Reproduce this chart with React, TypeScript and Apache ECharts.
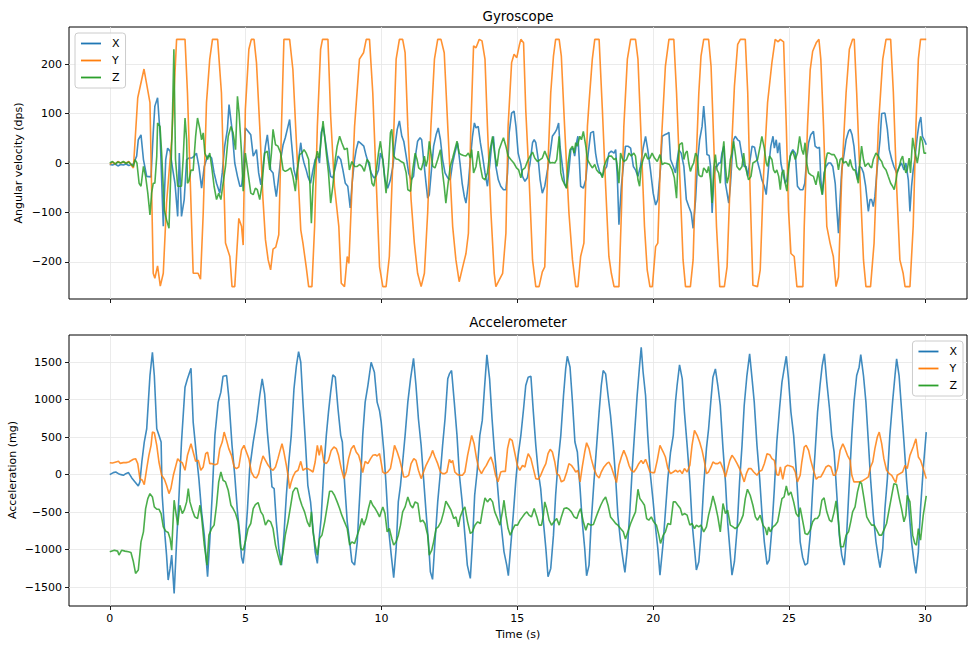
import React, { useEffect, useRef } from 'react';
import * as echarts from 'echarts';

const FONT = "'DejaVu Sans', 'Liberation Sans', sans-serif";
const seriesNames = ['X', 'Y', 'Z'];
const seriesColors = ['#1f77b4', '#ff7f0e', '#2ca02c'];
const timeTicks = [0, 5, 10, 15, 20, 25, 30];
const gyroTicks = [-200, -100, 0, 100, 200];
const accTicks = [-1500, -1000, -500, 0, 500, 1000, 1500];

// Gyroscope (dps) — [time s, value]
const gyroX: number[][] = [[0,-3],[0.1,-4],[0.2,-2],[0.3,-6],[0.4,-3],[0.5,-4],[0.6,-2],[0.7,-5],[0.87,-2],[0.99,14],[1.05,47],[1.15,57],[1.24,7],[1.36,-27],[1.52,-28],[1.6,61],[1.66,115],[1.76,132],[1.85,61],[1.97,-128],[2.06,7],[2.13,30],[2.22,24],[2.3,-7],[2.4,-41],[2.5,-108],[2.56,20],[2.64,-108],[2.74,-74],[2.83,7],[2.91,10],[3.01,10],[3.11,14],[3.19,20],[3.28,-7],[3.38,-51],[3.48,-7],[3.6,14],[3.68,14],[3.75,10],[3.84,-20],[3.93,-41],[4.05,-61],[4.14,-20],[4.23,34],[4.33,68],[4.39,118],[4.5,68],[4.6,0],[4.7,-27],[4.79,-47],[4.85,-47],[4.91,-20],[4.99,71],[5.09,64],[5.19,57],[5.28,14],[5.34,20],[5.4,27],[5.48,-20],[5.56,-44],[5.64,-7],[5.73,34],[5.8,57],[5.86,27],[5.92,-14],[6.01,-20],[6.07,-47],[6.13,-68],[6.19,-41],[6.29,7],[6.38,37],[6.46,51],[6.56,74],[6.62,88],[6.68,47],[6.78,-14],[6.87,-34],[6.95,7],[7.03,41],[7.09,14],[7.15,0],[7.23,-14],[7.29,-27],[7.39,-41],[7.48,-14],[7.56,7],[7.66,14],[7.72,0],[7.78,61],[7.85,74],[7.93,47],[8.03,7],[8.13,-27],[8.21,-30],[8.31,-7],[8.4,14],[8.5,7],[8.58,-14],[8.67,-41],[8.76,-47],[8.85,-91],[8.92,-41],[9.01,7],[9.07,27],[9.15,44],[9.25,39],[9.35,34],[9.44,14],[9.52,0],[9.62,-20],[9.72,-30],[9.8,-27],[9.89,-14],[9.96,20],[10.05,7],[10.13,-34],[10.23,-51],[10.33,-34],[10.42,-7],[10.5,34],[10.58,68],[10.66,85],[10.75,54],[10.82,44],[10.91,14],[11.0,-20],[11.09,-34],[11.18,-27],[11.25,14],[11.33,44],[11.42,51],[11.48,47],[11.55,7],[11.64,-41],[11.7,-71],[11.76,-64],[11.85,-7],[11.92,34],[12.01,57],[12.09,71],[12.17,47],[12.25,7],[12.34,-20],[12.44,-30],[12.53,-34],[12.62,0],[12.7,20],[12.8,41],[12.89,0],[12.97,-41],[13.05,-68],[13.11,-81],[13.2,-41],[13.27,7],[13.35,54],[13.42,81],[13.48,71],[13.56,74],[13.64,41],[13.72,14],[13.81,-20],[13.9,-47],[13.98,-7],[14.05,34],[14.12,54],[14.21,-7],[14.3,-34],[14.39,-47],[14.49,-54],[14.58,-54],[14.64,-20],[14.7,61],[14.79,101],[14.88,105],[14.95,74],[15.03,20],[15.13,-3],[15.19,-27],[15.28,-37],[15.37,-30],[15.47,0],[15.56,41],[15.62,47],[15.68,41],[15.77,7],[15.84,-34],[15.92,-61],[16.01,-47],[16.11,-14],[16.21,20],[16.29,54],[16.38,61],[16.45,68],[16.52,81],[16.57,34],[16.66,-7],[16.74,-41],[16.82,-51],[16.9,-14],[16.97,27],[17.05,30],[17.11,14],[17.19,44],[17.23,54],[17.28,7],[17.33,-47],[17.43,-51],[17.52,-34],[17.61,20],[17.7,61],[17.8,64],[17.88,20],[17.94,0],[18.04,-20],[18.13,-27],[18.21,-14],[18.29,-7],[18.37,20],[18.46,24],[18.56,20],[18.62,27],[18.68,-27],[18.74,-125],[18.83,-47],[18.9,-7],[18.98,34],[19.07,34],[19.17,30],[19.27,-7],[19.35,-14],[19.44,-27],[19.53,-7],[19.63,30],[19.72,54],[19.8,27],[19.9,-14],[20.0,-61],[20.09,-85],[20.17,-74],[20.27,-10],[20.33,54],[20.42,57],[20.51,59],[20.58,62],[20.64,7],[20.74,-7],[20.82,-20],[20.94,27],[21.03,20],[21.13,-7],[21.22,-74],[21.31,-88],[21.4,-101],[21.47,-132],[21.56,-74],[21.64,7],[21.71,47],[21.8,74],[21.86,115],[21.92,74],[21.98,17],[22.06,15],[22.11,-7],[22.17,-101],[22.23,-34],[22.29,-7],[22.35,-7],[22.42,0],[22.48,0],[22.53,20],[22.6,34],[22.66,-41],[22.72,-61],[22.78,-81],[22.84,-47],[22.9,7],[22.96,47],[23.02,54],[23.11,47],[23.18,44],[23.27,14],[23.35,-7],[23.42,-7],[23.48,-27],[23.55,0],[23.64,34],[23.73,32],[23.82,7],[23.92,-14],[24.0,-34],[24.09,-47],[24.16,-64],[24.25,-7],[24.33,34],[24.41,54],[24.46,30],[24.53,47],[24.58,20],[24.65,41],[24.7,0],[24.77,-20],[24.86,-41],[24.92,-34],[24.98,-7],[25.07,20],[25.14,27],[25.23,20],[25.31,-47],[25.41,-54],[25.51,-54],[25.58,-41],[25.65,7],[25.72,41],[25.8,57],[25.9,64],[25.96,34],[26.05,30],[26.12,32],[26.17,-34],[26.23,-64],[26.29,-20],[26.36,-7],[26.45,0],[26.53,0],[26.61,-7],[26.7,-41],[26.76,-95],[26.82,-142],[26.88,-74],[26.94,-14],[27.03,20],[27.1,47],[27.19,64],[27.25,68],[27.32,57],[27.39,34],[27.47,-14],[27.53,-34],[27.59,-7],[27.67,-10],[27.74,-20],[27.82,-47],[27.92,-98],[27.98,-74],[28.04,-74],[28.1,-88],[28.16,-68],[28.25,-7],[28.35,47],[28.41,100],[28.53,101],[28.62,68],[28.69,27],[28.78,7],[28.86,-7],[28.96,-20],[29.06,-7],[29.14,0],[29.23,-14],[29.3,0],[29.39,-34],[29.45,-98],[29.51,-47],[29.57,-14],[29.63,7],[29.72,54],[29.79,81],[29.85,93],[29.91,54],[30.0,44],[30.05,37]];

const gyroY: number[][] = [[0,-3],[0.1,2],[0.2,-2],[0.3,3],[0.4,0],[0.5,2],[0.6,0],[0.7,3],[0.8,-5],[0.87,-10],[1.03,132],[1.26,190],[1.48,122],[1.6,-223],[1.66,-233],[1.76,-208],[1.86,-249],[1.97,-223],[2.09,-81],[2.28,47],[2.46,250],[2.77,250],[2.86,142],[3.07,-223],[3.25,-223],[3.34,-235],[3.44,-101],[3.56,122],[3.68,210],[3.78,250],[3.97,250],[4.11,142],[4.26,-162],[4.42,-189],[4.5,-250],[4.6,-250],[4.75,-112],[4.85,-128],[4.91,-166],[4.99,108],[5.12,230],[5.21,250],[5.31,250],[5.4,203],[5.52,74],[5.64,-74],[5.73,-155],[5.83,-196],[5.92,-216],[6.01,-174],[6.11,-170],[6.22,-145],[6.32,74],[6.41,250],[6.62,250],[6.74,189],[6.87,41],[7.03,-135],[7.11,-162],[7.23,-210],[7.32,-250],[7.44,-250],[7.54,-128],[7.64,74],[7.76,230],[7.83,250],[8.03,250],[8.13,95],[8.27,-47],[8.43,-128],[8.52,-243],[8.64,-250],[8.74,-189],[8.8,-203],[9.01,74],[9.19,210],[9.34,223],[9.44,250],[9.56,250],[9.68,142],[9.8,-27],[9.93,-210],[10.05,-250],[10.17,-250],[10.29,-189],[10.42,7],[10.54,210],[10.66,250],[10.78,250],[10.87,223],[10.97,74],[11.09,-74],[11.21,-162],[11.33,-223],[11.46,-250],[11.58,-223],[11.7,-101],[11.82,74],[11.95,210],[12.07,250],[12.19,250],[12.31,223],[12.44,74],[12.62,-128],[12.74,-196],[12.86,-240],[12.99,-210],[13.11,-183],[13.2,-142],[13.29,74],[13.39,237],[13.48,233],[13.6,250],[13.7,247],[13.81,210],[13.9,74],[14.03,-101],[14.15,-223],[14.21,-250],[14.33,-237],[14.46,-223],[14.58,-142],[14.66,74],[14.79,203],[14.88,220],[14.98,213],[15.07,237],[15.13,250],[15.23,243],[15.31,108],[15.43,-27],[15.56,-196],[15.68,-250],[15.8,-250],[15.92,-220],[16.01,-210],[16.11,-27],[16.23,142],[16.33,216],[16.41,250],[16.54,250],[16.62,216],[16.74,74],[16.9,-101],[17.03,-196],[17.15,-250],[17.23,-250],[17.33,-189],[17.45,-162],[17.58,74],[17.64,122],[17.76,210],[17.85,250],[18.01,250],[18.13,108],[18.25,-47],[18.37,-189],[18.46,-223],[18.56,-250],[18.74,-250],[18.83,-101],[18.92,74],[19.05,210],[19.17,250],[19.35,250],[19.44,210],[19.54,74],[19.68,-128],[19.78,-216],[19.88,-250],[19.97,-250],[20.09,-169],[20.17,-162],[20.27,10],[20.45,196],[20.58,250],[20.76,250],[20.86,142],[20.98,-27],[21.1,-196],[21.19,-250],[21.37,-250],[21.47,-196],[21.56,-27],[21.68,142],[21.76,216],[21.86,250],[22.04,250],[22.13,196],[22.23,41],[22.33,-128],[22.45,-250],[22.62,-250],[22.72,-210],[22.84,-27],[22.99,155],[23.11,240],[23.21,250],[23.39,250],[23.48,142],[23.57,-61],[23.67,-247],[23.84,-250],[23.94,-216],[24.06,-27],[24.21,122],[24.37,203],[24.49,250],[24.6,245],[24.68,250],[24.8,245],[24.9,74],[24.98,-95],[25.07,-183],[25.19,-189],[25.29,-250],[25.51,-250],[25.56,-128],[25.68,74],[25.78,189],[25.87,226],[26.0,243],[26.1,250],[26.17,210],[26.27,74],[26.39,-128],[26.51,-162],[26.63,-189],[26.73,-250],[26.82,-230],[26.94,-27],[27.1,142],[27.22,230],[27.34,250],[27.4,250],[27.49,142],[27.61,-27],[27.74,-196],[27.83,-250],[28.0,-250],[28.13,-162],[28.29,74],[28.45,210],[28.57,250],[28.74,250],[28.84,142],[28.96,-47],[29.08,-196],[29.2,-223],[29.27,-250],[29.45,-250],[29.57,-128],[29.67,74],[29.76,210],[29.84,250],[30.05,250]];

const gyroZ: number[][] = [[0,0],[0.1,3],[0.2,-2],[0.3,2],[0.4,0],[0.5,3],[0.6,-1],[0.7,2],[0.87,-7],[0.93,7],[1.0,0],[1.08,-41],[1.15,-47],[1.24,-7],[1.32,-27],[1.4,-61],[1.48,-105],[1.54,-61],[1.6,-41],[1.66,-41],[1.73,14],[1.76,81],[1.85,74],[1.91,20],[2.01,-95],[2.09,-115],[2.18,-132],[2.25,-14],[2.3,74],[2.36,230],[2.42,7],[2.5,-47],[2.58,-47],[2.64,-47],[2.7,7],[2.77,91],[2.83,47],[2.86,-41],[2.91,-37],[2.99,-14],[3.07,-15],[3.16,54],[3.23,91],[3.32,68],[3.38,47],[3.44,61],[3.5,20],[3.6,7],[3.68,20],[3.75,-7],[3.84,-47],[3.93,-74],[4.01,-61],[4.09,-74],[4.17,-41],[4.26,-7],[4.36,54],[4.46,74],[4.54,61],[4.63,27],[4.7,135],[4.76,101],[4.85,20],[4.91,-57],[4.99,20],[5.09,-20],[5.19,-61],[5.28,-64],[5.36,-51],[5.43,-54],[5.52,-74],[5.61,-41],[5.7,20],[5.8,24],[5.89,-14],[5.95,20],[6.01,68],[6.1,37],[6.19,34],[6.29,20],[6.38,-14],[6.46,-17],[6.56,-14],[6.66,-10],[6.74,-27],[6.83,-57],[6.9,-14],[6.99,17],[7.07,20],[7.15,27],[7.23,20],[7.32,7],[7.37,-47],[7.42,-122],[7.48,-47],[7.56,0],[7.64,24],[7.71,10],[7.78,47],[7.85,85],[7.91,54],[7.97,20],[8.05,-20],[8.13,-81],[8.21,-47],[8.3,7],[8.37,34],[8.46,54],[8.54,41],[8.64,27],[8.74,30],[8.82,-14],[8.91,3],[9.01,-7],[9.11,-7],[9.19,-3],[9.28,-7],[9.37,-17],[9.47,7],[9.56,0],[9.65,-41],[9.72,-47],[9.8,-20],[9.89,20],[9.96,44],[10.05,7],[10.11,-27],[10.17,-61],[10.26,-7],[10.33,61],[10.38,68],[10.45,14],[10.54,8],[10.63,7],[10.72,3],[10.82,0],[10.91,-20],[10.97,-54],[11.07,-57],[11.15,-14],[11.24,20],[11.31,7],[11.37,-10],[11.46,-14],[11.53,0],[11.58,14],[11.64,-7],[11.7,7],[11.76,44],[11.82,20],[11.89,-7],[11.97,-10],[12.07,7],[12.17,27],[12.25,-20],[12.31,-47],[12.37,-81],[12.44,-47],[12.53,-7],[12.62,10],[12.7,27],[12.78,44],[12.86,20],[12.93,17],[13.02,15],[13.11,14],[13.2,20],[13.27,10],[13.32,27],[13.39,-20],[13.48,-7],[13.56,24],[13.64,-7],[13.72,-30],[13.81,-34],[13.9,-20],[14.0,27],[14.09,54],[14.17,17],[14.25,-7],[14.33,27],[14.42,41],[14.49,51],[14.58,34],[14.66,14],[14.76,7],[14.87,0],[14.97,-10],[15.05,-14],[15.13,-30],[15.19,-14],[15.28,-10],[15.37,3],[15.47,14],[15.56,22],[15.64,10],[15.74,3],[15.84,7],[15.92,10],[16.01,24],[16.11,10],[16.21,0],[16.29,1],[16.38,0],[16.45,7],[16.54,54],[16.6,-20],[16.66,-34],[16.72,-41],[16.81,-51],[16.87,0],[16.94,27],[17.03,34],[17.09,20],[17.15,41],[17.21,34],[17.3,54],[17.36,47],[17.43,64],[17.52,34],[17.58,7],[17.68,-3],[17.76,-10],[17.85,-3],[17.92,-14],[18.01,-20],[18.07,-20],[18.13,-30],[18.19,-7],[18.29,7],[18.37,14],[18.46,14],[18.56,7],[18.63,10],[18.68,-7],[18.74,-41],[18.8,20],[18.86,10],[18.92,3],[19.02,7],[19.11,20],[19.19,14],[19.29,20],[19.35,14],[19.44,-34],[19.5,-47],[19.56,-7],[19.63,7],[19.72,20],[19.8,8],[19.88,10],[19.96,20],[20.05,10],[20.15,3],[20.25,17],[20.33,-3],[20.42,0],[20.51,-1],[20.6,-3],[20.7,-14],[20.78,-30],[20.86,-71],[20.91,0],[20.97,37],[21.07,41],[21.13,7],[21.19,20],[21.25,24],[21.31,0],[21.37,-17],[21.43,-7],[21.49,0],[21.56,20],[21.62,14],[21.68,-24],[21.74,-27],[21.8,-27],[21.86,-10],[21.92,-14],[21.98,-20],[22.04,-7],[22.11,-34],[22.17,-81],[22.23,-10],[22.29,17],[22.35,-14],[22.41,-20],[22.47,-41],[22.53,7],[22.6,44],[22.66,-7],[22.72,-41],[22.78,-27],[22.84,7],[22.9,20],[22.96,44],[23.02,20],[23.08,-7],[23.18,-14],[23.27,-7],[23.33,20],[23.39,-7],[23.45,-20],[23.51,-34],[23.6,-27],[23.67,0],[23.76,3],[23.84,7],[23.94,35],[24.0,54],[24.09,30],[24.16,0],[24.21,-7],[24.28,14],[24.37,7],[24.43,-14],[24.49,-20],[24.55,-14],[24.62,-27],[24.68,-54],[24.74,-20],[24.8,-14],[24.86,-41],[24.92,-57],[24.98,-14],[25.04,14],[25.14,24],[25.23,7],[25.31,20],[25.39,54],[25.47,27],[25.53,17],[25.59,41],[25.65,0],[25.72,-20],[25.8,-24],[25.9,-27],[25.99,-44],[26.08,-17],[26.14,-41],[26.22,-64],[26.29,-30],[26.36,7],[26.41,20],[26.48,20],[26.57,17],[26.66,17],[26.76,7],[26.82,-14],[26.88,7],[26.94,10],[27.0,0],[27.1,3],[27.19,-7],[27.25,7],[27.31,-7],[27.37,-14],[27.43,-14],[27.49,-27],[27.55,-41],[27.61,0],[27.67,34],[27.74,7],[27.8,-7],[27.86,-3],[27.92,0],[27.98,-7],[28.04,-10],[28.1,7],[28.2,20],[28.29,14],[28.35,7],[28.41,3],[28.47,-7],[28.57,-14],[28.65,-27],[28.74,-41],[28.81,-47],[28.87,-54],[28.94,-34],[28.98,-20],[29.06,-7],[29.12,7],[29.18,14],[29.23,-3],[29.3,-20],[29.35,-14],[29.42,10],[29.47,-20],[29.55,51],[29.6,34],[29.67,14],[29.72,0],[29.78,20],[29.84,54],[29.91,44],[29.97,20],[30.05,20]];

// Accelerometer (mg) — [time s, value]
const accX: number[][] = [[0,0],[0.13,27],[0.22,35],[0.32,13],[0.42,0],[0.5,-9],[0.59,13],[0.69,27],[0.81,-44],[0.93,-97],[1.05,-151],[1.11,-97],[1.18,168],[1.27,434],[1.36,611],[1.42,966],[1.48,1320],[1.57,1630],[1.64,1320],[1.73,611],[1.81,523],[1.89,434],[1.93,-275],[2.03,-806],[2.09,-1072],[2.15,-1404],[2.22,-1249],[2.28,-1072],[2.37,-1582],[2.46,-895],[2.55,-275],[2.64,434],[2.77,1165],[2.86,1276],[2.99,1418],[3.07,700],[3.19,257],[3.28,-53],[3.38,-496],[3.48,-806],[3.6,-1360],[3.68,-895],[3.77,-275],[3.87,523],[3.99,966],[4.09,1099],[4.17,1311],[4.3,1320],[4.38,1032],[4.5,390],[4.6,-9],[4.7,-496],[4.79,-806],[4.85,-1100],[4.91,-1183],[4.97,-983],[5.07,-452],[5.15,80],[5.28,434],[5.4,700],[5.52,1054],[5.61,1276],[5.7,1077],[5.8,567],[5.89,213],[5.97,-164],[6.05,-186],[6.13,-629],[6.22,-983],[6.32,-1205],[6.41,-806],[6.5,-275],[6.59,168],[6.68,523],[6.78,1143],[6.87,1453],[6.95,1639],[7.03,1497],[7.11,966],[7.2,434],[7.29,-142],[7.39,-363],[7.48,-718],[7.56,-1028],[7.64,-1183],[7.72,-806],[7.78,-585],[7.88,80],[7.97,523],[8.05,833],[8.13,1099],[8.21,1329],[8.3,1298],[8.4,877],[8.5,523],[8.56,434],[8.64,-97],[8.74,-629],[8.83,-895],[8.91,-1160],[9.01,-1205],[9.11,-895],[9.16,-540],[9.23,-97],[9.31,523],[9.4,966],[9.5,1187],[9.62,1497],[9.74,1364],[9.84,966],[9.93,850],[9.99,700],[10.09,301],[10.17,-142],[10.26,-718],[10.36,-1072],[10.45,-1373],[10.54,-983],[10.62,-363],[10.7,-142],[10.78,168],[10.87,523],[10.97,966],[11.07,1276],[11.18,1550],[11.27,1187],[11.36,744],[11.46,390],[11.55,-53],[11.64,-496],[11.73,-895],[11.8,-1294],[11.88,-1395],[11.97,-895],[12.07,-363],[12.17,35],[12.25,390],[12.34,744],[12.44,1276],[12.5,1342],[12.58,1387],[12.68,966],[12.78,523],[12.87,-9],[12.97,-363],[13.07,-806],[13.16,-1205],[13.27,-1382],[13.35,-895],[13.43,-275],[13.52,35],[13.62,523],[13.71,722],[13.79,1143],[13.88,1595],[13.98,1276],[14.07,744],[14.15,346],[14.25,-53],[14.34,-452],[14.42,-718],[14.51,-1028],[14.61,-1205],[14.67,-1347],[14.75,-983],[14.85,-540],[14.95,-53],[15.03,257],[15.13,523],[15.23,877],[15.31,1187],[15.4,1298],[15.5,1311],[15.59,833],[15.68,390],[15.77,35],[15.86,-186],[15.96,-629],[16.05,-983],[16.13,-1360],[16.23,-1249],[16.33,-806],[16.41,-275],[16.5,168],[16.6,523],[16.7,1054],[16.78,1409],[16.84,1577],[16.94,1431],[17.03,966],[17.12,434],[17.21,301],[17.31,-186],[17.39,-629],[17.48,-983],[17.55,-1347],[17.64,-1205],[17.72,-629],[17.82,-97],[17.92,390],[18.01,833],[18.09,1187],[18.16,1387],[18.25,1342],[18.34,1054],[18.43,789],[18.53,390],[18.62,-53],[18.7,-540],[18.8,-895],[18.9,-1160],[18.96,-1302],[19.05,-983],[19.14,-496],[19.23,80],[19.31,523],[19.41,1054],[19.5,1453],[19.56,1697],[19.63,1364],[19.72,1054],[19.8,523],[19.9,-9],[20.0,-363],[20.09,-718],[20.17,-983],[20.25,-1338],[20.37,-895],[20.45,-496],[20.54,-53],[20.64,301],[20.74,523],[20.82,966],[20.88,1187],[20.97,1462],[21.07,1276],[21.15,833],[21.25,390],[21.35,-97],[21.43,-629],[21.52,-983],[21.59,-1271],[21.68,-1160],[21.76,-806],[21.86,-142],[21.96,346],[22.04,611],[22.13,1010],[22.2,1298],[22.29,1409],[22.38,1187],[22.47,921],[22.57,346],[22.66,-97],[22.74,-629],[22.82,-983],[22.9,-1338],[22.99,-1160],[23.09,-718],[23.18,-97],[23.27,390],[23.35,921],[23.45,1320],[23.55,1608],[23.64,1276],[23.72,966],[23.82,390],[23.92,-53],[24.0,-496],[24.09,-895],[24.19,-1196],[24.27,-1138],[24.37,-718],[24.46,-186],[24.55,434],[24.65,877],[24.74,1232],[24.82,1409],[24.9,1577],[24.98,1276],[25.07,833],[25.17,523],[25.26,80],[25.35,-452],[25.41,-895],[25.5,-1100],[25.59,-1205],[25.68,-1183],[25.78,-806],[25.87,-186],[25.96,301],[26.05,833],[26.14,1187],[26.22,1453],[26.3,1608],[26.39,1232],[26.49,877],[26.57,523],[26.66,301],[26.76,-275],[26.85,-806],[26.94,-1072],[27.03,-1205],[27.12,-806],[27.22,-97],[27.31,523],[27.39,966],[27.49,1320],[27.58,1431],[27.64,1599],[27.74,1320],[27.83,966],[27.92,434],[28.0,-53],[28.1,-540],[28.2,-895],[28.29,-1116],[28.35,-1240],[28.45,-983],[28.53,-452],[28.62,-53],[28.71,523],[28.81,966],[28.9,1320],[28.96,1542],[29.05,1320],[29.14,877],[29.23,434],[29.33,-97],[29.43,-540],[29.51,-895],[29.6,-1160],[29.67,-1316],[29.76,-1028],[29.84,-452],[29.94,80],[30.05,567]];

const accY: number[][] = [[0,159],[0.1,155],[0.2,165],[0.32,177],[0.38,150],[0.5,160],[0.6,160],[0.7,168],[0.87,204],[0.95,213],[1.03,146],[1.11,-53],[1.2,-75],[1.27,-133],[1.36,80],[1.44,257],[1.52,390],[1.57,567],[1.64,558],[1.73,390],[1.81,168],[1.91,-9],[2.01,-62],[2.09,-142],[2.18,-253],[2.25,-186],[2.34,-9],[2.42,102],[2.5,213],[2.58,177],[2.67,159],[2.77,58],[2.86,257],[2.99,412],[3.07,301],[3.16,177],[3.26,190],[3.35,58],[3.44,102],[3.53,279],[3.6,301],[3.68,146],[3.77,146],[3.87,133],[3.97,146],[4.05,346],[4.14,434],[4.21,567],[4.3,456],[4.38,346],[4.48,257],[4.58,102],[4.66,80],[4.75,102],[4.85,330],[4.94,390],[5.03,301],[5.12,213],[5.21,35],[5.31,-31],[5.4,-44],[5.48,13],[5.56,146],[5.64,248],[5.73,190],[5.83,124],[5.92,80],[6.01,58],[6.1,102],[6.19,213],[6.26,310],[6.34,412],[6.41,301],[6.5,124],[6.56,-9],[6.62,-186],[6.68,-97],[6.74,-31],[6.83,35],[6.93,58],[7.03,177],[7.11,58],[7.2,80],[7.29,80],[7.39,58],[7.48,35],[7.56,168],[7.64,390],[7.71,257],[7.78,390],[7.88,168],[7.97,146],[8.05,190],[8.15,323],[8.25,368],[8.34,346],[8.42,257],[8.52,80],[8.62,-53],[8.7,35],[8.79,213],[8.89,346],[8.98,390],[9.07,301],[9.16,257],[9.23,168],[9.31,27],[9.4,177],[9.5,146],[9.6,213],[9.68,257],[9.77,266],[9.84,248],[9.93,279],[9.99,160],[10.05,35],[10.13,13],[10.23,35],[10.33,80],[10.42,257],[10.48,390],[10.58,301],[10.66,213],[10.75,80],[10.82,-31],[10.91,-31],[11.0,-9],[11.09,146],[11.19,213],[11.27,190],[11.36,58],[11.46,-53],[11.55,35],[11.64,124],[11.73,190],[11.82,257],[11.88,323],[11.97,235],[12.07,146],[12.17,35],[12.25,13],[12.33,13],[12.41,35],[12.5,204],[12.56,159],[12.62,190],[12.7,35],[12.8,0],[12.9,-9],[12.98,-9],[13.07,35],[13.17,257],[13.26,412],[13.32,523],[13.41,412],[13.5,213],[13.58,80],[13.68,13],[13.78,80],[13.86,124],[13.95,190],[14.03,235],[14.11,146],[14.2,-9],[14.29,-97],[14.39,35],[14.48,44],[14.56,44],[14.64,346],[14.72,478],[14.81,456],[14.9,301],[15.0,124],[15.09,58],[15.19,124],[15.28,102],[15.35,213],[15.4,279],[15.5,213],[15.59,80],[15.68,-53],[15.77,-62],[15.86,-9],[15.96,80],[16.05,146],[16.13,279],[16.21,337],[16.29,301],[16.38,168],[16.45,13],[16.54,-9],[16.62,-97],[16.72,-75],[16.82,35],[16.9,146],[16.99,124],[17.06,89],[17.15,35],[17.23,58],[17.31,-97],[17.39,102],[17.48,301],[17.55,425],[17.64,346],[17.72,213],[17.82,80],[17.92,-9],[18.01,-44],[18.09,35],[18.19,102],[18.29,146],[18.37,168],[18.46,102],[18.56,-9],[18.65,-106],[18.74,124],[18.83,235],[18.92,323],[19.02,235],[19.11,124],[19.19,58],[19.29,35],[19.39,89],[19.47,146],[19.56,190],[19.63,146],[19.72,204],[19.78,146],[19.88,35],[19.96,27],[20.05,27],[20.15,190],[20.25,390],[20.37,301],[20.45,235],[20.54,80],[20.64,13],[20.74,35],[20.82,58],[20.91,35],[20.98,58],[21.07,13],[21.15,80],[21.25,35],[21.35,124],[21.43,390],[21.52,589],[21.62,523],[21.71,434],[21.8,323],[21.89,168],[21.96,13],[22.04,35],[22.13,102],[22.2,168],[22.29,146],[22.38,146],[22.47,168],[22.57,80],[22.66,-31],[22.74,80],[22.82,190],[22.9,257],[22.99,213],[23.09,146],[23.18,80],[23.27,-9],[23.35,-97],[23.43,13],[23.51,80],[23.6,80],[23.7,35],[23.82,-9],[23.92,44],[24.0,58],[24.09,146],[24.19,279],[24.29,266],[24.37,213],[24.46,190],[24.55,0],[24.62,-9],[24.68,102],[24.77,-62],[24.86,102],[24.94,124],[25.04,115],[25.14,102],[25.23,35],[25.31,-97],[25.41,-9],[25.47,168],[25.56,368],[25.63,390],[25.72,323],[25.8,190],[25.9,58],[26.0,-62],[26.08,-31],[26.17,-31],[26.27,35],[26.36,102],[26.45,124],[26.54,102],[26.63,-9],[26.7,-9],[26.78,80],[26.88,323],[26.98,412],[27.06,346],[27.15,257],[27.25,190],[27.31,-9],[27.39,-97],[27.49,-97],[27.58,-97],[27.71,-80],[27.83,-53],[27.92,-31],[28.0,102],[28.08,168],[28.16,346],[28.25,501],[28.32,567],[28.41,412],[28.49,213],[28.59,58],[28.69,13],[28.78,-9],[28.86,-62],[28.93,-106],[28.98,-9],[29.08,13],[29.18,35],[29.27,124],[29.35,80],[29.45,257],[29.57,368],[29.67,478],[29.76,235],[29.84,190],[29.94,80],[30.05,-53]];

const accZ: number[][] = [[0,-1028],[0.17,-1006],[0.29,-1019],[0.34,-1072],[0.44,-1006],[0.56,-1019],[0.69,-1028],[0.78,-1037],[0.87,-1161],[0.95,-1316],[1.05,-1271],[1.15,-895],[1.24,-762],[1.32,-452],[1.4,-319],[1.48,-253],[1.57,-297],[1.64,-430],[1.73,-461],[1.81,-461],[1.89,-518],[1.97,-696],[2.06,-753],[2.15,-771],[2.22,-851],[2.28,-1006],[2.34,-540],[2.37,-341],[2.42,-474],[2.5,-673],[2.58,-408],[2.67,-518],[2.74,-474],[2.83,-363],[2.89,-186],[2.95,-363],[3.04,-474],[3.13,-563],[3.23,-585],[3.32,-408],[3.38,-563],[3.48,-939],[3.58,-1205],[3.65,-806],[3.75,-718],[3.84,-673],[3.93,-408],[4.01,-97],[4.09,35],[4.17,-75],[4.26,-97],[4.36,-208],[4.46,-408],[4.54,-452],[4.63,-518],[4.72,-629],[4.82,-983],[4.91,-1006],[4.99,-895],[5.09,-718],[5.19,-651],[5.28,-452],[5.36,-399],[5.46,-372],[5.56,-496],[5.64,-540],[5.73,-673],[5.83,-607],[5.92,-629],[6.01,-718],[6.1,-939],[6.19,-1072],[6.29,-1205],[6.38,-1028],[6.46,-806],[6.56,-629],[6.66,-408],[6.74,-230],[6.83,-177],[6.9,-186],[6.99,-319],[7.07,-408],[7.17,-496],[7.27,-629],[7.36,-696],[7.42,-496],[7.48,-762],[7.56,-939],[7.64,-1072],[7.72,-851],[7.81,-806],[7.91,-629],[8.01,-408],[8.09,-222],[8.18,-222],[8.27,-275],[8.37,-363],[8.46,-452],[8.54,-540],[8.64,-629],[8.74,-718],[8.83,-939],[8.91,-895],[9.01,-917],[9.11,-806],[9.19,-718],[9.28,-585],[9.35,-673],[9.44,-585],[9.52,-452],[9.6,-341],[9.68,-408],[9.77,-452],[9.84,-496],[9.93,-563],[9.99,-496],[10.05,-430],[10.13,-518],[10.21,-762],[10.29,-718],[10.38,-851],[10.45,-939],[10.54,-895],[10.62,-806],[10.7,-673],[10.78,-496],[10.87,-430],[10.97,-297],[11.07,-408],[11.15,-443],[11.24,-363],[11.34,-385],[11.43,-629],[11.52,-607],[11.6,-651],[11.7,-806],[11.76,-1072],[11.85,-1006],[11.92,-895],[12.01,-718],[12.09,-696],[12.19,-629],[12.29,-496],[12.37,-354],[12.46,-408],[12.56,-474],[12.66,-585],[12.74,-563],[12.83,-696],[12.9,-563],[12.99,-474],[13.07,-430],[13.17,-629],[13.27,-784],[13.35,-762],[13.44,-673],[13.54,-629],[13.64,-651],[13.72,-474],[13.81,-310],[13.9,-363],[14.0,-319],[14.09,-363],[14.17,-496],[14.27,-585],[14.36,-673],[14.45,-496],[14.51,-341],[14.58,-540],[14.66,-718],[14.74,-806],[14.82,-740],[14.91,-673],[15.01,-673],[15.1,-607],[15.19,-563],[15.28,-518],[15.35,-496],[15.43,-540],[15.52,-563],[15.62,-452],[15.72,-563],[15.8,-673],[15.89,-673],[15.96,-540],[16.01,-363],[16.08,-452],[16.17,-607],[16.26,-673],[16.35,-629],[16.45,-585],[16.54,-673],[16.62,-563],[16.72,-452],[16.82,-443],[16.9,-461],[16.99,-496],[17.09,-563],[17.19,-585],[17.27,-496],[17.33,-452],[17.43,-629],[17.52,-740],[17.6,-651],[17.7,-673],[17.8,-665],[17.88,-585],[17.97,-496],[18.07,-408],[18.16,-341],[18.25,-297],[18.34,-408],[18.43,-563],[18.53,-607],[18.62,-651],[18.7,-673],[18.8,-718],[18.9,-762],[18.98,-859],[19.07,-762],[19.17,-651],[19.27,-563],[19.35,-496],[19.44,-195],[19.51,-319],[19.6,-363],[19.68,-408],[19.76,-585],[19.84,-607],[19.93,-563],[20.02,-629],[20.12,-673],[20.21,-806],[20.27,-917],[20.37,-806],[20.45,-762],[20.54,-651],[20.64,-665],[20.74,-363],[20.82,-363],[20.91,-408],[21.0,-452],[21.07,-540],[21.15,-518],[21.25,-540],[21.35,-673],[21.43,-651],[21.52,-718],[21.59,-673],[21.68,-696],[21.76,-673],[21.86,-762],[21.96,-696],[22.04,-540],[22.13,-408],[22.2,-284],[22.29,-408],[22.38,-563],[22.47,-762],[22.57,-385],[22.66,-518],[22.74,-474],[22.84,-673],[22.94,-696],[23.02,-718],[23.11,-696],[23.21,-629],[23.31,-540],[23.39,-319],[23.47,-195],[23.57,-275],[23.67,-408],[23.76,-563],[23.84,-607],[23.94,-540],[24.04,-673],[24.13,-718],[24.19,-806],[24.25,-696],[24.31,-762],[24.41,-696],[24.49,-673],[24.58,-629],[24.65,-496],[24.74,-319],[24.82,-297],[24.9,-151],[24.98,-275],[25.07,-230],[25.17,-363],[25.26,-518],[25.35,-563],[25.41,-440],[25.51,-629],[25.59,-784],[25.68,-797],[25.78,-740],[25.87,-629],[25.96,-585],[26.04,-585],[26.12,-540],[26.21,-341],[26.29,-310],[26.39,-496],[26.49,-607],[26.57,-629],[26.66,-496],[26.73,-350],[26.82,-629],[26.9,-961],[27.0,-961],[27.1,-806],[27.19,-762],[27.27,-629],[27.34,-496],[27.43,-430],[27.52,-230],[27.61,-97],[27.67,-120],[27.76,-319],[27.86,-563],[27.96,-629],[28.04,-673],[28.13,-673],[28.23,-740],[28.32,-806],[28.41,-806],[28.49,-740],[28.59,-651],[28.69,-452],[28.78,-275],[28.86,-120],[28.96,-133],[29.06,-319],[29.14,-452],[29.23,-629],[29.3,-540],[29.35,-275],[29.45,-363],[29.55,-806],[29.63,-917],[29.69,-939],[29.76,-718],[29.84,-873],[29.94,-540],[30.05,-284]];

const fmt = (v: number) => (v < 0 ? '\u2212' + Math.abs(v) : String(v));

function makeSeries(name: string, data: number[][], color: string, idx: number) {
  return {
    type: 'line',
    name,
    data,
    xAxisIndex: idx,
    yAxisIndex: idx,
    showSymbol: false,
    symbol: 'none',
    silent: true,
    lineStyle: { width: 1.6, color, opacity: 0.85 },
    itemStyle: { color },
  };
}

function legendCfg(pos: Record<string, number>) {
  return {
    ...pos,
    data: seriesNames,
    orient: 'vertical',
    icon: 'rect',
    itemWidth: 20,
    itemHeight: 1.8,
    itemGap: 4,
    padding: [4, 6, 4, 6],
    selectedMode: false,
    backgroundColor: 'rgba(255,255,255,0.8)',
    borderColor: '#cccccc',
    borderWidth: 1,
    borderRadius: 3,
    textStyle: { fontFamily: FONT, fontSize: 11, color: '#000', lineHeight: 13, padding: [0, 0, 0, 6] },
  };
}

export default function App() {
  const ref = useRef<HTMLDivElement>(null);
  useEffect(() => {
    if (!ref.current) return;
    const chart = echarts.init(ref.current, null, { renderer: 'svg' });
    const axisLabelStyle = { fontFamily: FONT, fontSize: 11, color: '#000', margin: 7 };
    const tickStyle = { show: true, inside: false, length: 4, lineStyle: { color: '#000', width: 0.9 } };
    const splitStyle = { show: true, lineStyle: { color: '#e6e6e6', width: 0.8 } };
    const xBase = (gi: number, showLabels: boolean) => ({
      type: 'value',
      gridIndex: gi,
      min: -1.5,
      max: 31.55,
      axisLine: { show: false, onZero: false },
      axisTick: { ...tickStyle, customValues: timeTicks },
      axisLabel: { ...axisLabelStyle, show: showLabels, customValues: timeTicks, formatter: fmt },
      splitLine: splitStyle,
    });
    const yBase = (gi: number, min: number, max: number, ticks: number[]) => ({
      type: 'value',
      gridIndex: gi,
      min,
      max,
      axisLine: { show: false, onZero: false },
      axisTick: { ...tickStyle, customValues: ticks },
      axisLabel: { ...axisLabelStyle, customValues: ticks, formatter: fmt },
      splitLine: splitStyle,
    });
    const textEl = (text: string, x: number, y: number, size: number, rotation = 0) => ({
      type: 'text',
      x,
      y,
      rotation,
      silent: true,
      style: { text, fontFamily: FONT, fontSize: size, fill: '#000', textAlign: 'center', textVerticalAlign: 'middle' },
    });
    chart.setOption({
      animation: false,
      backgroundColor: '#ffffff',
      grid: [
        { left: 69, right: 12, top: 27, height: 272, show: true, borderColor: '#000', borderWidth: 1, backgroundColor: 'transparent' },
        { left: 69, right: 12, top: 335, height: 271, show: true, borderColor: '#000', borderWidth: 1, backgroundColor: 'transparent' },
      ],
      xAxis: [xBase(0, false), xBase(1, true)],
      yAxis: [yBase(0, -275, 275, gyroTicks), yBase(1, -1750, 1860, accTicks)],
      legend: [legendCfg({ left: 75, top: 33 }), legendCfg({ right: 16, top: 341 })],
      graphic: [
        textEl('Gyroscope', 518, 16, 13.4),
        textEl('Accelerometer', 518, 322, 13.4),
        textEl('Time (s)', 518, 634, 11),
        textEl('Angular velocity (dps)', 18, 163, 11, Math.PI / 2),
        textEl('Acceleration (mg)', 12, 470, 11, Math.PI / 2),
      ],
      series: [
        makeSeries('X', gyroX, seriesColors[0], 0),
        makeSeries('Y', gyroY, seriesColors[1], 0),
        makeSeries('Z', gyroZ, seriesColors[2], 0),
        makeSeries('X', accX, seriesColors[0], 1),
        makeSeries('Y', accY, seriesColors[1], 1),
        makeSeries('Z', accZ, seriesColors[2], 1),
      ],
    });
    return () => chart.dispose();
  }, []);
  return <div ref={ref} style={{ position: 'fixed', left: 0, top: 0, width: 979, height: 647 }} />;
}
